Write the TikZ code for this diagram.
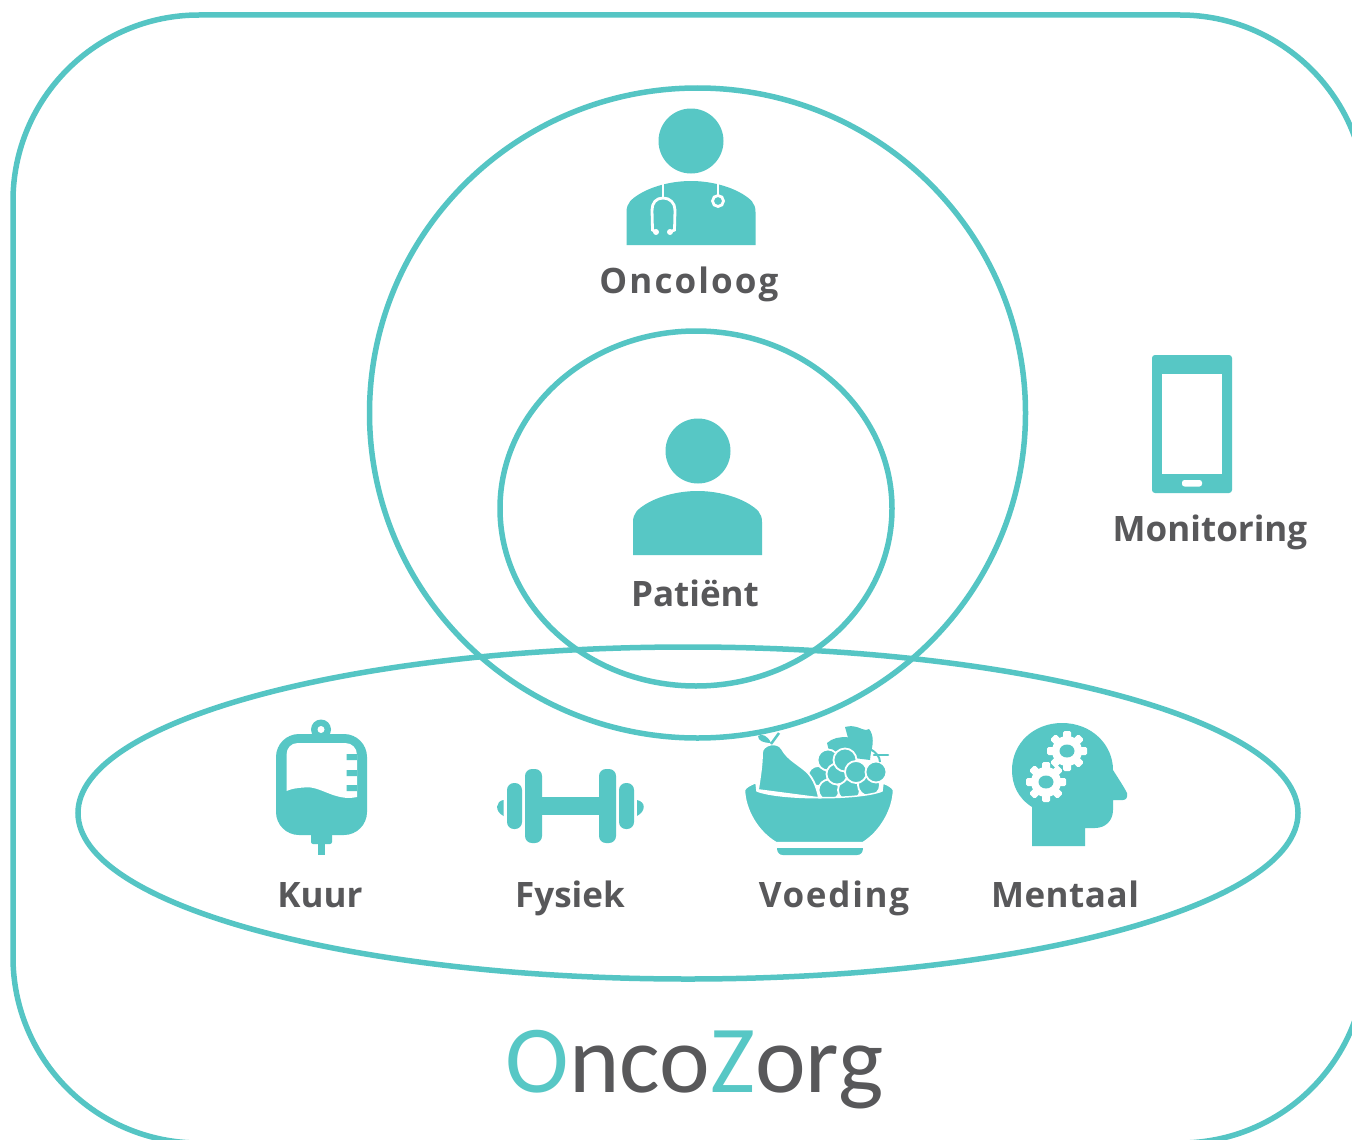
\documentclass[tikz,border=0pt]{standalone}
\usepackage{fontspec}
\setmainfont{Open Sans}
\newfontfamily\titlefont{Carlito}
\definecolor{teal1}{HTML}{57C7C5}
\definecolor{line1}{HTML}{55C5C4}
\definecolor{grey1}{HTML}{58585A}
\tikzset{
 ring/.style={draw=line1,line width=5.5pt},
 icon/.style={fill=teal1,draw=none},
 cut/.style={draw=white,line width=2.8pt,line cap=round},
 grape/.style={fill=teal1,draw=white,line width=1.8pt},
 lab/.style={anchor=base,text=grey1,font=\fontsize{35}{35}\selectfont\bfseries,inner sep=0pt},
 ttl/.style={anchor=base,text=grey1,font=\titlefont\fontsize{96}{96}\selectfont,inner sep=0pt}
}
\newcommand{\personbody}{(0,64) -- (0,31) .. controls (0,22) and (5,18) .. (13,13) .. controls (28,4) and (48,0) .. (64.5,0) .. controls (81,0) and (101,4) .. (116,13) .. controls (124,18) and (129,22) .. (129,31) -- (129,64) -- cycle}
\newcommand{\gearicon}[2]{%
 \begin{scope}[shift={(#1,#2)}]
  \fill[white] (0,0) circle (15);
  \foreach \a in {0,45,...,315}{\fill[white,rotate=\a,rounded corners=1.5pt] (-4,-20) rectangle (4,-10);}
  \fill[teal1] (0,0) ellipse (7.5 and 6.5);
 \end{scope}}
\begin{document}
\begin{tikzpicture}[x=1pt,y=-1pt]
\useasboundingbox (0,0) rectangle (1352,1140);
\fill[white] (0,0) rectangle (1352,1140);
\begin{scope}
\clip (0,0) rectangle (1352,1140);
\draw[ring,rounded corners=186pt] (13,15) rectangle (1366,1143);
\end{scope}
\draw[ring] (697.5,413) ellipse (328 and 325);
\draw[ring] (696,508.5) ellipse (196 and 177.5);
\draw[ring] (688,813) ellipse (610 and 166);

% doctor
\fill[icon] (691,141) circle (32.5);
\begin{scope}[shift={(626.5,181)}]\fill[icon] \personbody;\end{scope}
\draw[cut] (663,183) -- (663,198);
\draw[cut] (652,210) .. controls (652,203) and (656,198) .. (663,198) .. controls (670,198) and (675,203) .. (675,210);
\draw[cut] (652,210) -- (652.5,230) -- (656,232);
\draw[cut] (675,210) -- (674.5,230) -- (670,232);
\fill[white] (656,232) circle (3) (670,232) circle (3);
\draw[cut] (718,184) -- (718,195);
\draw[white,line width=2.8pt] (718,201) circle (5.5);
% patient
\fill[icon] (698,451) circle (32.5);
\begin{scope}[shift={(633,491)}]\fill[icon] \personbody;\end{scope}
% phone
\fill[icon,rounded corners=3pt] (1152,355) rectangle (1232,493);
\fill[white] (1162,374) rectangle (1222,474);
\fill[white,rounded corners=2.5pt] (1182,480) rectangle (1202,486.5);
% drip bag
\fill[icon] (321,729.5) circle (10);
\fill[icon,rounded corners=23pt] (276,734) rectangle (367,835);
\fill[white] (321,729.5) circle (3.5);
\fill[white] (286.5,791) -- (286.5,755) .. controls (286.5,748) and (291,743) .. (298,743) -- (345,743) .. controls (352,743) and (357,748) .. (357,755) -- (357,797) .. controls (335,802) and (320,785) .. (304,787.5) .. controls (296,788) and (291,789) .. (286.5,791) -- cycle;
\fill[icon] (346.5,754) rectangle (357,760) (346.5,770) rectangle (357,776) (346.5,785) rectangle (357,791);
\fill[icon,rounded corners=2pt] (311,830) rectangle (332,844);
\fill[icon] (318,840) rectangle (325,855);
% dumbbell
\fill[icon] (540,797) rectangle (601,815);
\fill[icon,rounded corners=7pt] (525,769) rectangle (542,843);
\fill[icon,rounded corners=7pt] (599,769) rectangle (616,843);
\fill[icon,rounded corners=7pt] (507,783) rectangle (522,829);
\fill[icon,rounded corners=7pt] (619,783) rectangle (634,829);
\fill[icon] (503.5,800) .. controls (496,801) and (494,811) .. (503.5,816) -- cycle;
\fill[icon] (637,800) .. controls (646,802) and (646,811) .. (637,816) -- cycle;
% fruit bowl
\begin{scope}
\clip (740,720) rectangle (895,800);
\fill[icon] (827,743) .. controls (838,733) and (855,738) .. (872,742) -- (870,760) -- (830,755) -- cycle;
\fill[icon] (845,727) .. controls (855,724) and (862,730) .. (866,730) -- (869,729) .. controls (874,735) and (874,745) .. (869,758) -- (850,745) -- cycle;
\foreach \c/\r in {{(818,776)}/10,{(829,790)}/10.5,{(849,790)}/11,{(869,785)}/11,{(828,760)}/10.5,{(837,774)}/10.5,{(845,760)}/11.5,{(856,772)}/11,{(876,772)}/10.5}{
 \fill[grape] \c circle (\r);
}
\draw[teal1,line width=2pt] (870,749) .. controls (876,752) and (880,757) .. (880,762);
\draw[teal1,line width=2.5pt,line cap=round] (874,755) -- (888,755);
\end{scope}
\fill[grape] (758,790) .. controls (760,777) and (762,765) .. (762,753) .. controls (762,744) and (778,741) .. (782,749) .. controls (788,760) and (800,765) .. (808,773) .. controls (814,780) and (817,788) .. (819,798) -- cycle;
\fill[icon] (758,736) .. controls (762,733) and (768,736) .. (771,743) .. controls (764,743) and (758,741) .. (758,736) -- cycle;
\draw[teal1,line width=2.5pt] (771,744) -- (779,733);
\fill[icon,draw=white,line width=1.5pt] (744.5,790) .. controls (746,787) and (750,785) .. (756,782.5) -- (757,791) .. controls (780,800) and (860,800) .. (882,791) -- (883,783) .. controls (888,785) and (892,787) .. (893.5,790) .. controls (893,810) and (880,832) .. (863,842.5) -- (776,842.5) .. controls (758,832) and (745,810) .. (744.5,790) -- cycle;
\fill[icon] (777,848) -- (863,848) .. controls (863,852) and (861,855) .. (857,855) -- (783,855) .. controls (779,855) and (777,852) .. (777,848) -- cycle;
% head
\fill[icon] (1032,846) -- (1032,807) .. controls (1018,798) and (1012,785) .. (1012,770) .. controls (1012,743) and (1034,723) .. (1062,723) .. controls (1092,723) and (1113,745) .. (1113,770) .. controls (1118,778) and (1124,787) .. (1127,793) .. controls (1128,797) and (1126,800) .. (1123,800) -- (1113,800) -- (1113,810) .. controls (1113,821) and (1105,828) .. (1095,828) -- (1085,828) -- (1085,846) -- cycle;
\gearicon{1067}{751}
\gearicon{1046}{782}
% labels
\node[lab] (oncoloog) at (689,293) {\addfontfeature{LetterSpace=6}Oncoloog};
\node[lab] (patient) at (695,606) {Patiënt};
\node[lab] (monitoring) at (1210,541) {Monitoring};
\node[lab] (kuur) at (320,907) {Kuur};
\node[lab] (fysiek) at (570,907) {Fysiek};
\node[lab] (voeding) at (834,907) {\addfontfeature{LetterSpace=5}Voeding};
\node[lab] (mentaal) at (1065,907) {\addfontfeature{LetterSpace=1.5}Mentaal};
\node[ttl] (title) at (694.5,1092) {\textcolor{teal1}{O}nco\textcolor{teal1}{Z}org};
\end{tikzpicture}
\end{document}
